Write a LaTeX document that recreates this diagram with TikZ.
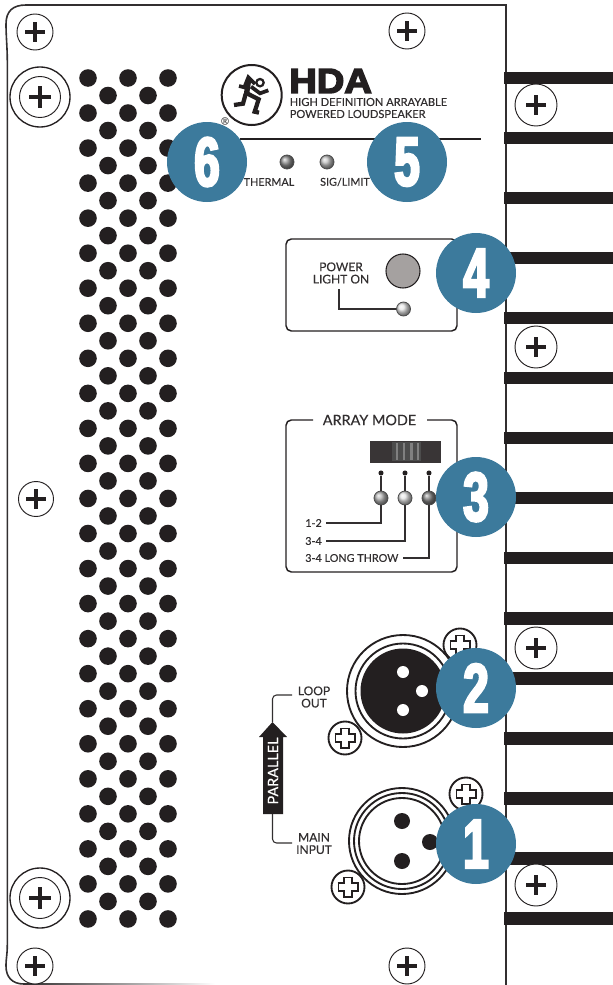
\documentclass[tikz,border=0pt]{standalone}
\usepackage{fontspec}
\setmainfont[FakeBold=0.35]{Lato}
\newfontfamily\badgefont[FakeStretch=0.66,FakeBold=3.5]{Liberation Sans Bold}
\newfontfamily\hdafont[FakeStretch=1.1,FakeBold=4.5]{Liberation Sans Bold}

\definecolor{badgeblue}{RGB}{60,122,156}
\definecolor{panelink}{RGB}{35,31,32}
\definecolor{labelink}{RGB}{50,47,48}
\definecolor{capgray}{RGB}{165,161,160}

\tikzset{
  badge/.style={circle, fill=badgeblue, text=white, minimum size=60pt, inner sep=0pt, font=\badgefont\fontsize{52}{52}\selectfont},
  lbl/.style={text=labelink, inner sep=0pt, align=center, font=\fontsize{8.1}{9.2}\selectfont},
  lblbig/.style={lbl, font=\fontsize{9}{9.2}\selectfont},
  wire/.style={draw=labelink, line width=0.8pt},
  panelbox/.style={draw=panelink, line width=1.1pt, rounded corners=4pt},
  ledcap/.style={circle, draw=black!70, line width=0.6pt, minimum size=10.5pt, inner sep=0pt},
  pindot/.style={circle, fill=panelink, minimum size=3.8pt, inner sep=0pt},
  screwring/.style={draw=panelink, line width=0.7pt, fill=white},
  ringthick/.style={draw=panelink, line width=1.4pt, fill=white},
  crossbar/.style={draw=panelink, line width=3.6pt},
}

\begin{document}
\begin{tikzpicture}[x=0.75pt, y=-0.75pt]
\useasboundingbox (0,0) rectangle (613,985);

% Frame
\draw[draw=labelink, line width=1.2pt] (506,985) -- (506,5) -- (26,5)
  .. controls (13,5) and (6,11) .. (6,24) .. controls (6,36) and (7.3,48) .. (7.3,60) -- (7.3,945)
  .. controls (7.3,955) and (6,958) .. (6,966) .. controls (6,977) and (12,984) .. (24,984);
\shade[left color=labelink, right color=white] (24,983.6) rectangle (215,984.6);

% Bars
\foreach \y in {71.5,131.5,191.5,251.5,311.5,371.5,431.5,491.5,551.5,612,672,732,792,852,912}
  \fill[panelink] (504,\y) rectangle (613,\y+12.5);

% Screws
\foreach \x/\y/\r in {35/32/18, 407/31/18, 35/966/18, 407/966/18, 36/499/17.5, 536/105/21, 536/347/21, 536/648/21, 536/885/21} {
  \draw[screwring] (\x,\y) circle (\r);
  \draw[crossbar] (\x-10,\y) -- (\x+10,\y) (\x,\y-10) -- (\x,\y+10);
}
\foreach \x/\y in {40/97, 40/898} {
  \draw[draw=panelink, line width=1pt] (\x,\y) circle (30);
  \draw[screwring] (\x,\y) circle (20.5);
  \draw[crossbar] (\x-11,\y) -- (\x+11,\y) (\x,\y-11) -- (\x,\y+11);
}

% Grille
\foreach \r in {0,...,24} {
  \foreach \x in {88,128,168}
    \fill[panelink] (\x,{78+\r*35.04}) circle (8.8);
}
\foreach \r in {0,...,23} {
  \foreach \x in {108,148}
    \fill[panelink] (\x,{95.5+\r*35.04}) circle (8.8);
}

% Logo
\draw[draw=panelink, line width=1.5pt] (251.7,95) circle (30);
\begin{scope}[shift={(215,60)}, scale=1/3]
  \draw[panelink, line width=1.7pt] (135,68) circle (11);
  \draw[panelink, line width=2.8pt, line join=miter] (72,78) -- (88,82) -- (100,52) -- (120,72);
  \draw[panelink, line width=4pt] (101,58) -- (94,106);
  \draw[panelink, line width=2.8pt] (108,80) -- (135,100) -- (160,91);
  \draw[panelink, line width=3.2pt] (92,102) -- (84,131) -- (57,135);
  \draw[panelink, line width=3.2pt] (96,100) -- (131,118) -- (119,155) -- (132,158);
\end{scope}
\node[inner sep=0pt, text=black!60, font=\fontsize{7.5}{8}\selectfont] (regmark) at (225,121) {®};
\node[anchor=west, inner sep=0pt, text=panelink, font=\hdafont\fontsize{26}{26}\selectfont] (hdaname) at (289,81) {HDA};
\node[lbl, anchor=west, font=\fontsize{8.3}{9}\selectfont] (hdaone) at (289.5,102) {HIGH DEFINITION ARRAYABLE};
\node[lbl, anchor=west, font=\fontsize{8.3}{9}\selectfont] (hdatwo) at (289.5,114) {POWERED LOUDSPEAKER};

\draw[draw=panelink, line width=0.9pt] (240,139) -- (481,139);

% Thermal and signal
\node[ledcap, ball color=black!45] (ledThermal) at (287,162) {};
\node[ledcap, ball color=black!25] (ledSignal) at (327,162) {};
\node[lbl] (labThermal) at (269,182) {THERMAL};
\node[lbl] (labSignal) at (345,182) {SIG/LIMIT};

% Power
\draw[panelbox] (286,239) rectangle (457,331);
\node[circle, draw=panelink, fill=capgray, line width=0.8pt, minimum size=25.5pt, inner sep=0pt] (powerCap) at (403,271) {};
\node[ledcap, ball color=black!10] (ledPower) at (403.5,309) {};
\node[lblbig] (labPower) at (341,273) {POWER\\LIGHT ON};
\coordinate (powerTop) at (339,289);
\draw[wire] (powerTop) |- (ledPower.west);

% Array mode
\draw[panelbox] (313,420) -- (286,420) -- (286,572) -- (457,572) -- (457,420) -- (427,420);
\node[lbl, font=\fontsize{10.8}{11}\selectfont] (labArray) at (369.5,420) {ARRAY MODE};
\fill[panelink!90!white] (370,441) rectangle (441,463);
\fill[black!70] (392,442) rectangle (421,461);
\foreach \x in {397,404,411.5,418}
  \fill[black!50] (\x-1.3,443) rectangle (\x+1.3,460);

\node[pindot] (dotA) at (381,473) {};
\node[pindot] (dotB) at (405,473) {};
\node[pindot] (dotC) at (429,473) {};
\node[ledcap, ball color=black!30] (ledA) at (381,498) {};
\node[ledcap, ball color=black!12] (ledB) at (405,498) {};
\node[ledcap, ball color=black!50] (ledC) at (429,498) {};
\node[lbl, anchor=west] (labA) at (305,523) {1-2};
\node[lbl, anchor=west] (labB) at (305,541) {3-4};
\node[lbl, anchor=west] (labC) at (305,558) {3-4 LONG THROW};
\foreach \n in {A,B,C} {
  \draw[wire] (dot\n) -- (led\n.north);
  \draw[wire] (led\n.south) |- ([xshift=3pt]lab\n.east);
}

% Loop out connector
\foreach \x/\y in {460/645, 345/738, 466/794, 348/887} {
  \draw[ringthick] (\x,\y) circle (16.5);
  \draw[panelink, line width=7.4pt] (\x-10.5,\y) -- (\x+10.5,\y) (\x,\y-10.5) -- (\x,\y+10.5);
  \draw[white, line width=5pt] (\x-8.9,\y) -- (\x+8.9,\y) (\x,\y-8.9) -- (\x,\y+8.9);
}
\draw[ringthick] (403,691) circle (56);
\draw[ringthick] (403,691) circle (47.5);
\fill[panelink] (403,691) circle (42.5);
\foreach \x/\y in {403/672, 422/691, 403/710}
  \fill[white] (\x,\y) circle (6);

% Main input connector
\draw[ringthick] (402,841) circle (53);
\draw[ringthick] (402,841) circle (48);
\draw[ringthick] (402,841) circle (43);
\foreach \x/\y in {402/821, 430/842, 402/861}
  \fill[panelink] (\x,\y) circle (8);

% Parallel arrow
\node[lblbig] (labLoop) at (314,697) {LOOP\\OUT};
\node[lblbig] (labMain) at (314,843.5) {MAIN\\INPUT};
\coordinate (arrowTip) at (272.5,722);
\coordinate (arrowFoot) at (272.5,814);
\coordinate (loopEnd) at (292,695);
\coordinate (mainEnd) at (292,843);
\draw[wire, rounded corners=3pt] (arrowTip) |- (loopEnd);
\draw[wire, rounded corners=3pt] (arrowFoot) |- (mainEnd);
\fill[panelink] (arrowTip) -- (287,737) -- (283,737) -- (283,814) -- (263,814) -- (263,737) -- (259,737) -- cycle;
\node[lbl, text=white, rotate=90, font=\fontsize{10.8}{11}\selectfont] (labParallel) at (273,771) {PARALLEL};

% Badges
\foreach \n/\x/\y in {1/476/844, 2/476/688, 3/476/497, 4/476/273, 5/407/162, 6/207/162}
  \node[badge] (badge\n) at (\x,\y) {\n};

\end{tikzpicture}
\end{document}
